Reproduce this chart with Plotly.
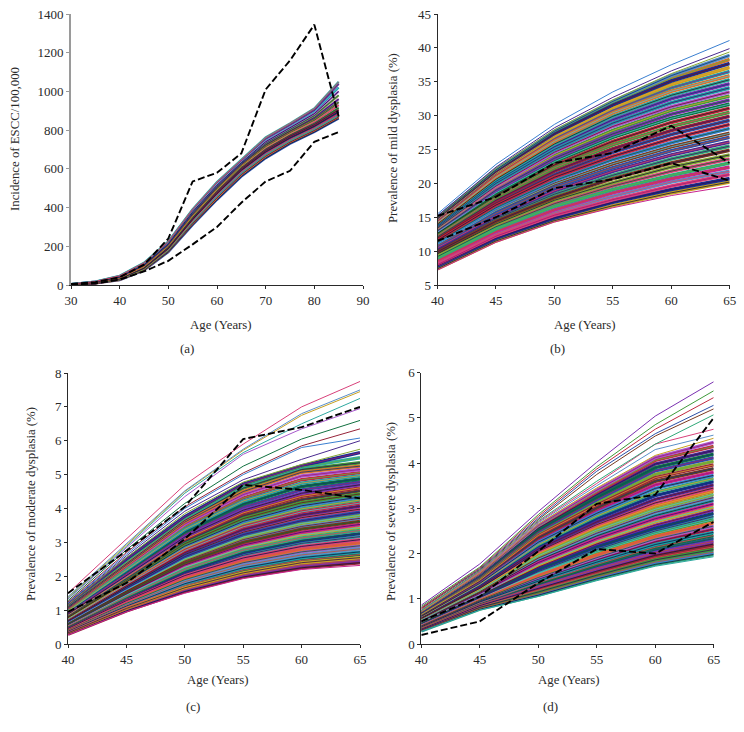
import plotly.graph_objects as go

FIG_W, FIG_H = 744, 732
AGES_A = [30, 35, 40, 45, 50, 55, 60, 65, 70, 75, 80, 85]
AGES = [40, 45, 50, 55, 60, 65]

COLORS = ["#2a4fa8", "#c0283f", "#3f9a3a", "#7a30b0", "#1f9aa8", "#d8702a", "#1a2f8f", "#c8248f",
          "#86a832", "#4a2a8f", "#3a7fd0", "#96243a", "#117040", "#a858cc", "#2fa8a0", "#c8a020",
          "#5a8fc8", "#d8407a", "#30a878", "#7a3a20"]
FINE_COLORS = ["#101840", "#e04060", "#106030", "#401060", "#50c0d0", "#701020", "#202020", "#e0a030",
               "#0a3a70", "#a01870", "#60b040", "#301050", "#c05030"]

ESCC_BAND = [
    [2, 8, 25, 75, 170, 310, 440, 560, 655, 730, 790, 860],
    [2, 8, 26, 77, 175, 318, 450, 570, 665, 738, 798, 868],
    [3, 9, 27, 80, 178, 325, 458, 578, 672, 745, 805, 875],
    [3, 9, 28, 82, 183, 330, 465, 585, 680, 752, 812, 885],
    [3, 10, 30, 85, 187, 338, 472, 593, 688, 760, 820, 895],
    [3, 10, 31, 87, 192, 342, 478, 600, 695, 768, 828, 905],
    [3, 11, 33, 90, 195, 348, 485, 607, 702, 775, 835, 915],
    [4, 12, 35, 93, 200, 355, 492, 613, 710, 782, 845, 930],
    [4, 12, 36, 96, 203, 360, 498, 618, 718, 790, 855, 945],
    [4, 13, 38, 99, 207, 366, 505, 624, 725, 797, 865, 960],
    [4, 14, 40, 102, 210, 372, 510, 628, 732, 805, 875, 980],
    [4, 15, 42, 105, 214, 378, 516, 632, 740, 812, 885, 1000],
    [5, 16, 44, 108, 218, 382, 522, 636, 748, 820, 895, 1020],
    [5, 17, 46, 112, 222, 388, 528, 640, 755, 827, 905, 1040],
    [5, 18, 48, 115, 225, 392, 532, 645, 762, 835, 912, 1050],
]
ESCC_DASH_HIGH = [5, 15, 40, 105, 240, 535, 580, 680, 1010, 1160, 1345, 870]
ESCC_DASH_LOW = [2, 8, 28, 70, 125, 210, 300, 425, 535, 590, 740, 790]

MILD_BAND = [
    [7.4, 11.5, 14.5, 16.7, 18.6, 20.2], [7.8, 11.9, 14.9, 17.2, 19.1, 20.7],
    [8.0, 12.2, 15.3, 17.6, 19.6, 21.3], [8.4, 12.5, 15.7, 18.1, 20.2, 21.8],
    [8.6, 12.9, 16.1, 18.6, 20.7, 22.4], [9.0, 13.3, 16.6, 19.1, 21.2, 23.0],
    [9.2, 13.6, 17.0, 19.6, 21.8, 23.6], [9.6, 14.0, 17.5, 20.1, 22.4, 24.2],
    [9.9, 14.4, 17.9, 20.7, 23.0, 24.9], [10.2, 14.8, 18.4, 21.2, 23.6, 25.5],
    [10.5, 15.2, 18.9, 21.8, 24.2, 26.1], [10.8, 15.6, 19.4, 22.3, 24.8, 26.8],
    [11.0, 16.0, 19.9, 22.9, 25.4, 27.4], [11.3, 16.4, 20.4, 23.5, 26.0, 28.1],
    [11.6, 16.8, 20.9, 24.0, 26.6, 28.7], [11.9, 17.1, 21.3, 24.6, 27.2, 29.3],
    [12.1, 17.5, 21.8, 25.1, 27.8, 29.9], [12.3, 17.9, 22.3, 25.7, 28.4, 30.5],
    [12.6, 18.2, 22.7, 26.2, 29.0, 31.1], [12.8, 18.6, 23.2, 26.8, 29.6, 31.7],
    [13.0, 19.0, 23.7, 27.3, 30.2, 32.3], [13.2, 19.3, 24.1, 27.8, 30.8, 32.9],
    [13.4, 19.6, 24.6, 28.4, 31.3, 33.5], [13.6, 20.0, 25.0, 28.9, 31.9, 34.1],
    [13.8, 20.3, 25.4, 29.4, 32.5, 34.7], [14.0, 20.6, 25.8, 29.9, 33.0, 35.3],
    [14.2, 20.9, 26.2, 30.4, 33.6, 35.9], [14.4, 21.2, 26.6, 30.8, 34.1, 36.5],
    [14.6, 21.5, 27.0, 31.2, 34.6, 37.1], [14.8, 21.7, 27.3, 31.6, 35.1, 37.7],
    [14.9, 21.9, 27.6, 31.9, 35.5, 38.3], [15.0, 22.0, 27.7, 32.1, 35.9, 38.9],
]
MILD_OUTER = [
    [7.2, 11.3, 14.3, 16.4, 18.2, 19.6], [15.1, 22.2, 27.9, 32.3, 36.2, 39.4],
    [15.2, 22.4, 28.2, 32.7, 36.6, 39.9], [15.5, 22.8, 28.7, 33.5, 37.5, 41.1],
]
MILD_DASH_HIGH = [15.2, 18.0, 23.0, 24.5, 28.5, 23.0]
MILD_DASH_LOW = [11.5, 15.0, 19.3, 20.6, 23.0, 20.4]

MODERATE_BAND = [
    [.29, .98, 1.55, 1.98, 2.25, 2.40], [.31, 1.02, 1.6, 2.04, 2.33, 2.48],
    [.33, 1.05, 1.66, 2.10, 2.40, 2.55], [.36, 1.09, 1.72, 2.18, 2.47, 2.64],
    [.38, 1.12, 1.78, 2.25, 2.55, 2.72], [.40, 1.16, 1.84, 2.32, 2.63, 2.81],
    [.42, 1.2, 1.9, 2.4, 2.72, 2.9], [.44, 1.24, 1.96, 2.47, 2.8, 2.99],
    [.46, 1.28, 2.02, 2.54, 2.88, 3.08], [.49, 1.32, 2.08, 2.62, 2.97, 3.17],
    [.51, 1.36, 2.14, 2.7, 3.05, 3.26], [.53, 1.4, 2.2, 2.77, 3.13, 3.35],
    [.55, 1.44, 2.27, 2.85, 3.22, 3.44], [.57, 1.48, 2.33, 2.92, 3.3, 3.53],
    [.59, 1.52, 2.39, 3.0, 3.39, 3.62], [.62, 1.56, 2.45, 3.08, 3.47, 3.71],
    [.64, 1.6, 2.51, 3.15, 3.56, 3.8], [.66, 1.64, 2.58, 3.23, 3.64, 3.89],
    [.68, 1.68, 2.64, 3.3, 3.73, 3.98], [.71, 1.72, 2.7, 3.38, 3.81, 4.07],
    [.73, 1.76, 2.76, 3.46, 3.9, 4.16], [.75, 1.8, 2.83, 3.54, 3.99, 4.25],
    [.78, 1.84, 2.89, 3.62, 4.08, 4.34], [.8, 1.88, 2.96, 3.7, 4.17, 4.43],
    [.83, 1.93, 3.02, 3.78, 4.26, 4.52], [.85, 1.97, 3.09, 3.87, 4.36, 4.61],
    [.88, 2.02, 3.16, 3.95, 4.45, 4.7], [.91, 2.07, 3.23, 4.04, 4.55, 4.79],
    [.94, 2.12, 3.3, 4.13, 4.65, 4.88], [.97, 2.17, 3.38, 4.22, 4.75, 4.97],
    [1.0, 2.22, 3.46, 4.31, 4.85, 5.06], [1.03, 2.27, 3.54, 4.41, 4.96, 5.15],
    [1.06, 2.33, 3.6, 4.5, 5.07, 5.25], [1.09, 2.38, 3.65, 4.6, 5.15, 5.35],
    [1.12, 2.43, 3.7, 4.68, 5.22, 5.5], [1.15, 2.5, 3.76, 4.72, 5.26, 5.65],
]
MODERATE_OUTER = [
    [.27, .95, 1.5, 1.93, 2.2, 2.32], [1.17, 2.55, 3.85, 4.78, 5.3, 5.75],
    [1.2, 2.6, 3.92, 4.85, 5.45, 6.0], [1.22, 2.65, 4.0, 5.0, 5.8, 6.08],
    [1.24, 2.7, 4.05, 5.05, 5.85, 6.35], [1.28, 2.78, 4.15, 5.25, 6.05, 6.6],
    [1.33, 2.85, 4.35, 5.6, 6.35, 6.95], [1.35, 2.88, 4.45, 5.65, 6.5, 7.25],
    [1.38, 2.92, 4.5, 5.72, 6.75, 7.45], [1.4, 2.95, 4.52, 5.75, 6.8, 7.5],
    [1.5, 3.1, 4.7, 5.9, 7.0, 7.75],
]
MODERATE_DASH_HIGH = [1.5, 2.75, 4.05, 6.05, 6.4, 7.0]
MODERATE_DASH_LOW = [0.95, 1.8, 3.1, 4.7, 4.55, 4.3]

SEVERE_BAND = [
    [.29, .77, 1.08, 1.44, 1.76, 1.98], [.30, .79, 1.11, 1.48, 1.81, 2.03],
    [.31, .81, 1.15, 1.52, 1.86, 2.09], [.32, .83, 1.19, 1.56, 1.91, 2.15],
    [.33, .85, 1.23, 1.61, 1.96, 2.21], [.35, .87, 1.27, 1.66, 2.02, 2.27],
    [.36, .89, 1.31, 1.71, 2.08, 2.33], [.37, .91, 1.35, 1.76, 2.14, 2.40],
    [.38, .93, 1.39, 1.81, 2.2, 2.47], [.4, .95, 1.43, 1.86, 2.26, 2.54],
    [.41, .97, 1.47, 1.91, 2.32, 2.61], [.42, .99, 1.52, 1.97, 2.38, 2.68],
    [.43, 1.01, 1.56, 2.03, 2.44, 2.75], [.45, 1.03, 1.6, 2.09, 2.5, 2.82],
    [.46, 1.05, 1.65, 2.15, 2.56, 2.89], [.47, 1.07, 1.7, 2.21, 2.63, 2.96],
    [.48, 1.09, 1.75, 2.27, 2.7, 3.03], [.5, 1.12, 1.8, 2.33, 2.77, 3.1],
    [.51, 1.14, 1.85, 2.39, 2.84, 3.17], [.52, 1.16, 1.9, 2.45, 2.91, 3.24],
    [.53, 1.18, 1.95, 2.52, 2.98, 3.31], [.55, 1.21, 2.0, 2.58, 3.05, 3.38],
    [.56, 1.23, 2.05, 2.64, 3.12, 3.45], [.57, 1.26, 2.1, 2.7, 3.2, 3.52],
    [.58, 1.29, 2.15, 2.77, 3.28, 3.59], [.6, 1.32, 2.2, 2.83, 3.36, 3.66],
    [.61, 1.34, 2.25, 2.89, 3.44, 3.73], [.62, 1.37, 2.3, 2.95, 3.52, 3.8],
    [.63, 1.39, 2.35, 3.01, 3.6, 3.88], [.65, 1.41, 2.4, 3.07, 3.68, 3.96],
    [.66, 1.44, 2.44, 3.13, 3.75, 4.04], [.67, 1.47, 2.48, 3.19, 3.83, 4.12],
    [.68, 1.5, 2.52, 3.24, 3.9, 4.2], [.69, 1.52, 2.56, 3.3, 3.98, 4.28],
    [.7, 1.54, 2.6, 3.36, 4.06, 4.37], [.71, 1.55, 2.62, 3.4, 4.12, 4.46],
]
SEVERE_OUTER = [
    [.28, .75, 1.05, 1.4, 1.72, 1.93], [.72, 1.57, 2.65, 3.45, 4.17, 4.55],
    [.74, 1.6, 2.68, 3.5, 4.3, 4.62], [.76, 1.6, 2.7, 3.55, 4.42, 4.75],
    [.74, 1.62, 2.72, 3.6, 4.42, 5.07], [.78, 1.64, 2.75, 3.75, 4.6, 5.2],
    [.8, 1.66, 2.78, 3.82, 4.65, 5.28], [.8, 1.68, 2.82, 3.87, 4.75, 5.45],
    [.83, 1.7, 2.86, 3.92, 4.85, 5.6], [.86, 1.77, 2.93, 4.02, 5.04, 5.8],
]
SEVERE_DASH_HIGH = [0.5, 1.05, 2.05, 3.1, 3.3, 5.0]
SEVERE_DASH_LOW = [0.2, 0.5, 1.35, 2.1, 2.0, 2.7]

FONT = "Liberation Serif, Times New Roman, serif"
INK = "#2a2a2a"

PANELS = [
    dict(key="", x=AGES_A, band=ESCC_BAND, outer=[], dashes=[ESCC_DASH_HIGH, ESCC_DASH_LOW],
         box=(71, 363, 14, 285), xr=[30, 90], xd=10, yr=[0, 1400], yd=200,
         ytitle="Incidence of ESCC/100,000", ytx=15, yty=139, tag="(a)", tagx=187, tagy=349,
         xtx=221, xty=325, ycolor="#9a9a9a", yw=2, bw=2.2),
    dict(key="2", x=AGES, band=MILD_BAND, outer=MILD_OUTER, dashes=[MILD_DASH_HIGH, MILD_DASH_LOW],
         box=(437.5, 729.7, 14, 285), xr=[40, 65], xd=5, yr=[5, 45], yd=5,
         ytitle="Prevalence of mild dysplasia (%)", ytx=393, yty=138, tag="(b)", tagx=557, tagy=349,
         xtx=585, xty=325, ycolor=INK, yw=1, bw=3.6),
    dict(key="3", x=AGES, band=MODERATE_BAND, outer=MODERATE_OUTER, dashes=[MODERATE_DASH_HIGH, MODERATE_DASH_LOW],
         box=(68, 360, 373, 644), xr=[40, 65], xd=5, yr=[0, 8], yd=1,
         ytitle="Prevalence of moderate dysplasia (%)", ytx=31, yty=504, tag="(c)", tagx=193, tagy=706,
         xtx=218, xty=680, ycolor=INK, yw=1, bw=3.4),
    dict(key="4", x=AGES, band=SEVERE_BAND, outer=SEVERE_OUTER, dashes=[SEVERE_DASH_HIGH, SEVERE_DASH_LOW],
         box=(421.3, 713.7, 372.7, 644), xr=[40, 65], xd=5, yr=[0, 6], yd=1,
         ytitle="Prevalence of severe dysplasia (%)", ytx=391, yty=512, tag="(d)", tagx=550, tagy=706,
         xtx=569, xty=680, ycolor=INK, yw=1, bw=3.4),
]

fig = go.Figure()
annotations = []
layout = {}


def text_note(text, x, y, size, angle=0):
    return dict(text=text, xref="paper", yref="paper", x=x / FIG_W, y=1 - y / FIG_H,
                showarrow=False, xanchor="center", yanchor="middle", textangle=angle,
                font=dict(family=FONT, size=size, color=INK))


def add_line(p, row, color, width, dash=None):
    fig.add_trace(go.Scatter(x=p["x"], y=row, xaxis="x" + p["key"], yaxis="y" + p["key"], mode="lines",
                             line=dict(color=color, width=width, dash=dash),
                             hoverinfo="skip", showlegend=False))


color_i = 0
for p in PANELS:
    xa, ya = "x" + p["key"], "y" + p["key"]
    band = p["band"]
    ordered = band[::3] + band[1::3] + band[2::3]
    for row in ordered:
        add_line(p, row, COLORS[color_i % len(COLORS)], p["bw"])
        color_i += 1
    for i, row in enumerate(ordered):
        add_line(p, row, FINE_COLORS[i % len(FINE_COLORS)], 0.8)
    for row in p["outer"]:
        add_line(p, row, COLORS[color_i % len(COLORS)], 1)
        color_i += 1
    for row in p["dashes"]:
        add_line(p, row, "black", 1.9, "7px,3px")
    l, r, t, b = p["box"]
    layout["xaxis" + p["key"]] = dict(
        domain=[l / FIG_W, r / FIG_W], anchor=ya, range=p["xr"], dtick=p["xd"], tick0=p["xr"][0],
        showgrid=False, zeroline=False, showline=True, linecolor=INK, linewidth=1, automargin=False,
        ticks="outside", ticklen=3, tickcolor=INK, tickfont=dict(family=FONT, size=13, color=INK))
    layout["yaxis" + p["key"]] = dict(
        domain=[1 - b / FIG_H, 1 - t / FIG_H], anchor=xa, range=p["yr"], dtick=p["yd"], tick0=p["yr"][0],
        showgrid=False, zeroline=False, showline=True, linecolor=p["ycolor"], linewidth=p["yw"],
        automargin=False, ticks="outside", ticklen=3, tickcolor=p["ycolor"],
        tickfont=dict(family=FONT, size=13, color=INK))
    annotations.append(text_note(p["ytitle"], p["ytx"], p["yty"], 12.8, -90))
    annotations.append(text_note("Age (Years)", p["xtx"], p["xty"], 12.8))
    annotations.append(text_note(p["tag"], p["tagx"], p["tagy"], 13))

fig.update_layout(width=FIG_W, height=FIG_H, autosize=False, margin=dict(l=0, r=0, t=0, b=0),
                  paper_bgcolor="white", plot_bgcolor="white", showlegend=False,
                  annotations=annotations, **layout)
fig.write_html("out.html", config={"displayModeBar": False},
               post_script="document.body.style.margin='0';document.documentElement.style.overflow='hidden';")
